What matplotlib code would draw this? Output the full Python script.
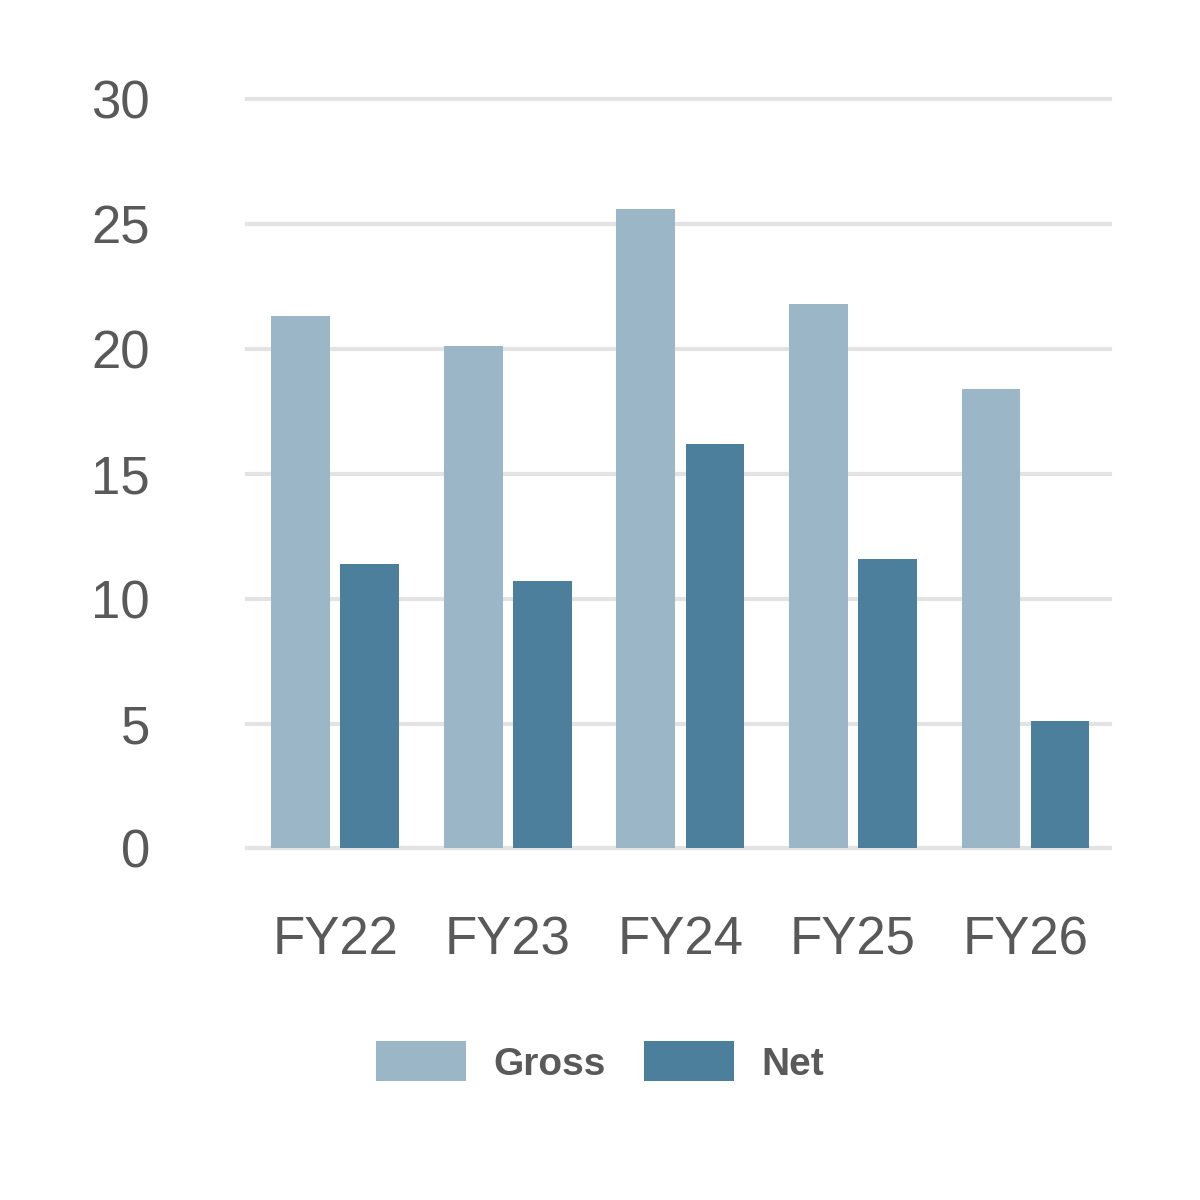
import matplotlib
matplotlib.use("Agg")
import matplotlib.pyplot as plt
import numpy as np

categories = ["FY22", "FY23", "FY24", "FY25", "FY26"]
gross = [21.3, 20.1, 25.6, 21.8, 18.4]
net = [11.4, 10.7, 16.2, 11.6, 5.1]

plt.rcParams['font.family'] = ['Liberation Sans', 'DejaVu Sans']
fig = plt.figure(figsize=(12, 12), dpi=100)
ax = fig.add_axes([0.206, 0.293, 0.719, 0.6245])
x = np.arange(len(categories))
w = 0.34
ax.bar(x - 0.2, gross, w, color="#9bb6c7", label="Gross", zorder=3)
ax.bar(x + 0.2, net, w, color="#4b7f9c", label="Net", zorder=3)
ax.set_xlim(-0.51, 4.49)
ax.set_ylim(0, 30)
ax.set_yticks([0, 5, 10, 15, 20, 25, 30])
ax.set_xticks(x)
ax.set_xticklabels(categories)
for s in ax.spines.values():
    s.set_visible(False)
ax.grid(axis='y', color="#e3e3e3", linewidth=3, zorder=0, clip_on=False)
for gl in ax.get_ygridlines():
    gl.set_clip_on(False)
ax.tick_params(axis='both', length=0, labelsize=38, labelcolor="#595959")
ax.tick_params(axis='y', pad=70)
ax.tick_params(axis='x', pad=48)
fig.legend(loc='center', bbox_to_anchor=(0.5, 0.115), ncol=2, frameon=False,
           prop={'size': 28, 'weight': 'bold'}, labelcolor="#595959",
           handlelength=2.3, handleheight=1.2, columnspacing=1.0, handletextpad=0.7)
fig.savefig("out.png", dpi=100)
